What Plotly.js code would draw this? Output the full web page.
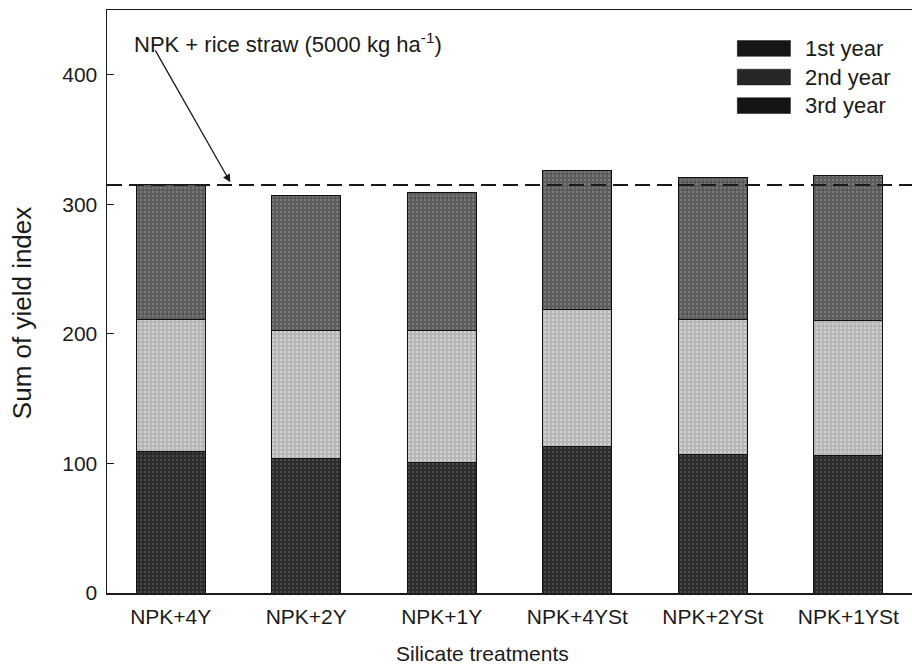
<!DOCTYPE html>
<html>
<head>
<meta charset="utf-8">
<script src="https://cdn.plot.ly/plotly-3.0.1.min.js"></script>
<style>html,body{margin:0;padding:0;background:#fff;}#chart{width:912px;height:670px;}</style>
</head>
<body>
<div id="chart"></div>
<script>
const categories = ['NPK+4Y', 'NPK+2Y', 'NPK+1Y', 'NPK+4YSt', 'NPK+2YSt', 'NPK+1YSt'];
const seriesNames = ['1st year', '2nd year', '3rd year'];
const year1 = [109, 104, 101, 113, 107, 106];
const year2 = [102, 99, 102, 106, 104, 104];
const year3 = [104, 104, 106, 107, 110, 112];
const referenceValue = 315;
const referenceLabel = 'NPK + rice straw (5000 kg ha<sup>-1</sup>)';
const xTitle = 'Silicate treatments';
const yTitle = 'Sum of yield index';
const yTicks = [0, 100, 200, 300, 400];

const FONT = 'Liberation Sans, Arial, sans-serif';
const INK = '#1a1a1a';
const fills = ['#2a2a2a', '#b4b4b4', '#5a5a5a'];
const pats = ['#4a4a4a', '#d2d2d2', '#7a7a7a'];
const legendSwatch = ['#161616', '#262626', '#141414'];

const data = [year1, year2, year3].map((vals, i) => ({
  type: 'bar',
  name: seriesNames[i],
  x: categories,
  y: vals,
  width: 0.51,
  marker: {
    color: fills[i],
    line: {color: '#111', width: 1},
    pattern: {shape: '.', fgcolor: pats[i], bgcolor: fills[i], size: 4, solidity: 0.3}
  },
  showlegend: false,
  hoverinfo: 'skip'
}));

// custom legend (paper coordinates)
const legendRowsY = [0.934, 0.885, 0.836];
const legendShapes = seriesNames.map((n, i) => ({
  type: 'rect', xref: 'paper', yref: 'paper',
  x0: 0.783, x1: 0.849, y0: legendRowsY[i] - 0.0135, y1: legendRowsY[i] + 0.0135,
  fillcolor: legendSwatch[i], line: {color: '#111', width: 0.5}
}));
const legendTexts = seriesNames.map((n, i) => ({
  xref: 'paper', yref: 'paper', x: 0.864, y: legendRowsY[i],
  xanchor: 'left', yanchor: 'middle', showarrow: false, text: n,
  font: {family: FONT, size: 22, color: INK}
}));

const layout = {
  width: 912, height: 670,
  margin: {l: 107, r: 0, t: 10, b: 77},
  paper_bgcolor: '#fff', plot_bgcolor: '#fff',
  barmode: 'stack',
  font: {family: FONT, color: INK, size: 21},
  showlegend: false,
  xaxis: {
    type: 'category',
    range: [-0.47, 5.47],
    showline: true, linecolor: INK, linewidth: 1.5,
    mirror: true,
    ticks: '', showgrid: false, zeroline: false,
    tickfont: {family: FONT, size: 21, color: INK},
    ticklabelstandoff: 4
  },
  yaxis: {
    range: [0, 450],
    tickvals: yTicks,
    ticks: 'inside', ticklen: 7, tickwidth: 1.2, tickcolor: INK,
    showline: true, linecolor: INK, linewidth: 1.5,
    showgrid: false, zeroline: false,
    tickfont: {family: FONT, size: 21, color: INK},
    ticklabelstandoff: 4
  },
  shapes: [{
    type: 'line', xref: 'paper', yref: 'y',
    x0: 0, x1: 1, y0: referenceValue, y1: referenceValue,
    line: {color: INK, width: 2, dash: '15px,7px'}
  }].concat(legendShapes),
  annotations: [
    {
      xref: 'paper', yref: 'paper', x: 0.031, y: 0.944,
      xanchor: 'left', yanchor: 'middle', showarrow: false,
      text: referenceLabel,
      font: {family: FONT, size: 22, color: INK}
    },
    {
      xref: 'x', yref: 'y', axref: 'x', ayref: 'y',
      x: 0.44, y: referenceValue + 2, ax: -0.12, ay: 420,
      text: '', showarrow: true, arrowhead: 2, arrowsize: 1.2, arrowwidth: 1.3,
      arrowcolor: INK, standoff: 0, startstandoff: 0
    },
    {
      xref: 'paper', yref: 'paper', x: -0.1056, y: 0.48,
      xanchor: 'center', yanchor: 'middle', showarrow: false,
      textangle: -90, text: yTitle,
      font: {family: FONT, size: 26, color: INK}
    },
    {
      x: 0.467, xref: 'paper', yref: 'paper', y: -0.103,
      xanchor: 'center', yanchor: 'middle', showarrow: false,
      text: xTitle,
      font: {family: FONT, size: 21, color: INK}
    }
  ].concat(legendTexts)
};

Plotly.newPlot('chart', data, layout, {displayModeBar: false, staticPlot: true});
</script>
</body>
</html>
